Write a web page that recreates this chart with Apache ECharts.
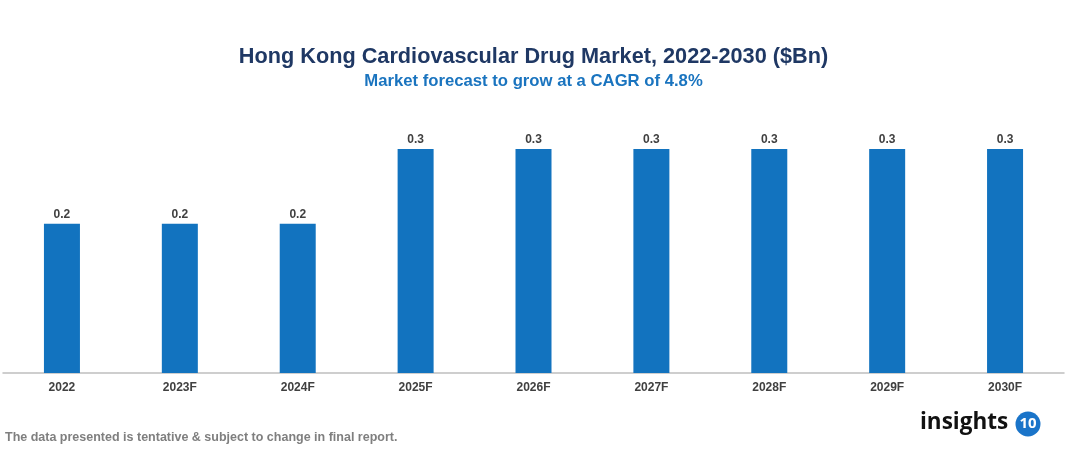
<!DOCTYPE html>
<html><head><meta charset="utf-8">
<script src="https://cdn.jsdelivr.net/npm/echarts@6/dist/echarts.min.js"></script>
<style>html,body{margin:0;padding:0;background:#fff}#c{width:1067px;height:454px}</style>
</head><body><div id="c"></div>
<script>
const categories = ['2022','2023F','2024F','2025F','2026F','2027F','2028F','2029F','2030F'];
const values = [0.2,0.2,0.2,0.3,0.3,0.3,0.3,0.3,0.3];
const titleText = 'Hong Kong Cardiovascular Drug Market, 2022-2030 ($Bn)';
const subtitleText = 'Market forecast to grow at a CAGR of 4.8%';
const footnote = 'The data presented is tentative & subject to change in final report.';

const chart = echarts.init(document.getElementById('c'));
chart.setOption({
  animation: false,
  backgroundColor: '#ffffff',
  title: {
    text: titleText, subtext: subtitleText, left: 'center', top: 41, itemGap: 5,
    textStyle: {fontFamily: 'Liberation Sans, Arial', fontWeight: 'bold', fontSize: 21.7, color: '#1f3864'},
    subtextStyle: {fontFamily: 'Liberation Sans, Arial', fontWeight: 'bold', fontSize: 16.7, color: '#1a74bf'}
  },
  grid: {left: 3, right: 3, top: 149, bottom: 81, containLabel: false},
  xAxis: {
    type: 'category', data: categories,
    axisLine: {lineStyle: {color: '#bfbfbf', width: 1.5}},
    axisTick: {show: false},
    axisLabel: {fontFamily: 'Liberation Sans, Arial', fontWeight: 'bold', fontSize: 12, color: '#404040', margin: 9}
  },
  yAxis: {type: 'value', min: 0, max: 0.3, show: false, splitLine: {show: false}},
  series: [{
    type: 'bar', data: values, barWidth: 36,
    itemStyle: {color: '#1273bf'},
    label: {show: true, position: 'top', distance: 3, formatter: p => p.value.toFixed(1),
      fontFamily: 'Liberation Sans, Arial', fontWeight: 'bold', fontSize: 12, color: '#404040'}
  }],
  graphic: [
    {type: 'text', left: 5, top: 431, style: {text: footnote, fill: '#7f7f7f',
      font: 'bold 12.5px "Liberation Sans", Arial'}},
    {type: 'text', x: 920, y: 423, style: {text: 'insights', fill: '#111111', verticalAlign: 'middle',
      font: 'bold 22.5px "Open Sans", sans-serif'}},
    {type: 'circle', shape: {cx: 1028, cy: 424, r: 12.5}, style: {fill: '#1a74c9'}},
    {type: 'text', x: 1028, y: 424, style: {text: '10', fill: '#ffffff', align: 'center', verticalAlign: 'middle',
      font: 'bold 15px "Open Sans", sans-serif'}}
  ]
});
</script></body></html>
